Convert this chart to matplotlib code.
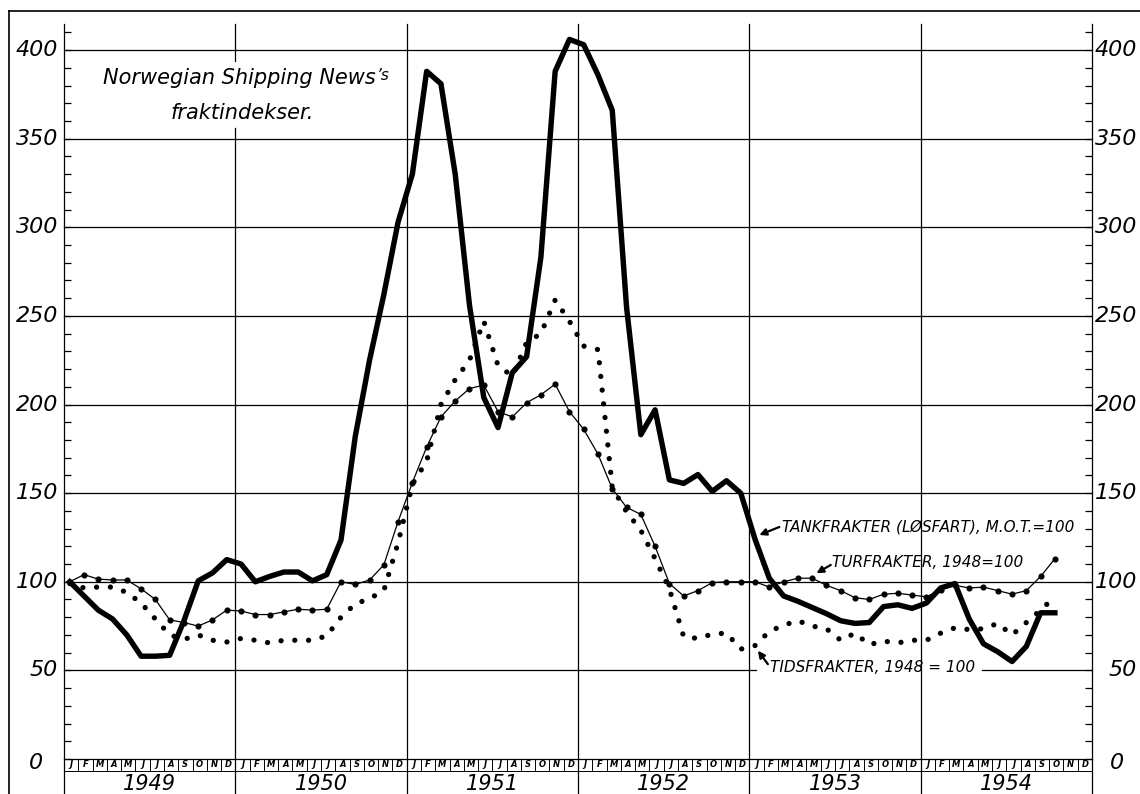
import matplotlib
matplotlib.use("Agg")
import matplotlib.pyplot as plt
from matplotlib import transforms
from matplotlib.lines import Line2D

# monthly values, Jan 1949 .. Oct 1954
tank = [100, 92, 84, 79, 70, 58, 58, 58.5, 78, 100.5,
        105, 112.5, 110, 100, 103, 105.5, 105.5, 100.5, 104, 123.5,
        182, 225, 262, 303, 330, 388, 381, 330, 256, 204,
        187, 218, 227, 283, 388, 406, 403, 386, 366, 255,
        183, 197, 157.5, 155.5, 160.5, 151, 157, 150, 124, 102,
        92, 89, 85.5, 82, 78, 76.5, 77, 86, 87, 85,
        88, 96.5, 99, 79, 65, 60.5, 55, 63.5, 82.5, 82.5]
tur = [100, 104, 101.5, 101, 101, 96, 90, 78.5, 77, 75,
       78.5, 84, 83.5, 81.5, 81.5, 83, 84.5, 84, 84.5, 100,
       98.5, 101, 109.5, 134, 156, 176, 193, 202, 209, 211,
       196, 193, 201, 205.5, 211.5, 196, 186, 172, 152.5, 142,
       138, 120, 99, 92, 95, 99.5, 100, 100, 100, 97,
       100, 102, 102, 98, 95, 91, 90, 93, 93.5, 92.5,
       91.5, 95.5, 98, 96.5, 97, 95, 93, 95, 103, 113]
tids = [99, 96.5, 97, 97, 94, 88, 79, 70, 67.5, 70,
        67, 66, 68, 67, 65.5, 67, 67, 67, 69.5, 80,
        87.5, 90.5, 95, 122, 155, 168, 200, 214, 225, 247,
        222, 216, 235, 240, 259, 247, 233, 231, 153, 139.5,
        129, 113, 96, 69, 68, 70.5, 71, 62, 64, 72,
        75.5, 78, 75, 73.5, 67, 71, 64.5, 66.5, 65.5, 67,
        67, 71, 74, 73, 73.5, 76.5, 70, 77, 84, 91.5]
years = ["1949", "1950", "1951", "1952", "1953", "1954"]
months = ["J", "F", "M", "A", "M", "J", "J", "A", "S", "O", "N", "D"]
ylabels = [0, 50, 100, 150, 200, 250, 300, 350, 400]

FONT = "DejaVu Sans"
YTOP = 414.7
YBOT = -20

fig = plt.figure(figsize=(11.4, 7.94), dpi=100)
ax = fig.add_axes([64 / 1140, 35 / 794, 1028 / 1140, 735 / 794])
ax.set_xlim(0, 72)
ax.set_ylim(0, YTOP)
for s in ax.spines.values():
    s.set_visible(False)
ax.set_xticks([])
ax.set_yticks(range(0, 411, 10))
ax.tick_params(axis="y", direction="in", length=5, width=0.9, left=True, right=True,
               labelleft=False, labelright=False)

# grid
k = dict(color="black", lw=0.9, zorder=1, clip_on=False)
for v in range(100, 401, 50):
    ax.plot([0, 72], [v, v], **k)
ax.plot([0, 48.5], [50, 50], **k)
ax.plot([64.3, 72], [50, 50], **k)
for x in [0, 24, 36, 48, 60, 72]:
    ax.plot([x, x], [YBOT, YTOP], **k)
ax.plot([12, 12], [YBOT, 356], **k)
ax.plot([12, 12], [394, YTOP], **k)

# month boxes and year labels
ax.plot([0, 72], [0, 0], **k)
ax.plot([0, 72], [-6.5, -6.5], color="black", lw=0.7, clip_on=False)
for i in range(72):
    ax.plot([i, i], [0, -6.5], color="black", lw=0.7, clip_on=False)
    ax.text(i + 0.5, -3.3, months[i % 12], ha="center", va="center", fontsize=6,
            style="italic", family=FONT, fontweight="bold")
for j, y in enumerate(years):
    ax.text(6 + 12 * j, -8.5, y, ha="center", va="top", fontsize=15,
            style="italic", family=FONT, clip_on=False)

# y labels
tr = transforms.blended_transform_factory(ax.transAxes, ax.transData)
for v in ylabels:
    if v == 0:
        ax.text(-0.0272, -2.5, "0", transform=tr, ha="center", va="center",
                fontsize=16, style="italic", family=FONT)
        ax.text(1.0243, -2.5, "0", transform=tr, ha="center", va="center",
                fontsize=16, style="italic", family=FONT)
    else:
        ax.text(-0.006, v, str(v), transform=tr, ha="right", va="center",
                fontsize=16, style="italic", family=FONT)
        ax.text(1.0438, v, str(v), transform=tr, ha="right", va="center",
                fontsize=16, style="italic", family=FONT)

# series
x = [i + 0.4 for i in range(len(tank))]
ax.plot(x, tank, color="black", lw=3.9, solid_joinstyle="round", zorder=4)
ax.plot(x, tur, color="black", lw=0.9, marker="o", ms=3.4, zorder=3)
ax.plot(x, tids, color="black", lw=3.8, linestyle=(0, (0.01, 2.6)),
        dash_capstyle="round", zorder=3)

# title
t1 = ax.text(12.3, 384, "Norwegian Shipping News", ha="center", va="center",
             fontsize=15, style="italic", family=FONT)
ax.annotate("\u2019s", xy=(1, 1), xycoords=t1, xytext=(1, 0), textcoords="offset points",
            ha="left", va="top", fontsize=11, style="italic", family=FONT)
ax.text(12.5, 364.5, "fraktindekser.", ha="center", va="center",
        fontsize=15, style="italic", family=FONT)

# annotations
arrow = dict(arrowstyle="-|>", color="black", lw=1.6, mutation_scale=10,
             shrinkA=0, shrinkB=0)
tk = dict(fontsize=11, style="italic", family=FONT, va="center", ha="left")
ax.text(50.3, 130.9, "TANKFRAKTER (L\u00d8SFART), M.O.T.=100", **tk)
ax.annotate("", xy=(48.7, 126.4), xytext=(50.1, 130.9), arrowprops=arrow)
ax.text(53.8, 110.6, "TURFRAKTER, 1948=100", **tk)
ax.annotate("", xy=(52.7, 104.8), xytext=(53.7, 109.5), arrowprops=arrow)
ax.text(49.45, 51.7, "TIDSFRAKTER, 1948 = 100", **tk)
ax.annotate("", xy=(48.6, 61.1), xytext=(49.3, 53.5), arrowprops=arrow)

# page frame
fig.add_artist(Line2D([9 / 1140, 9 / 1140], [0, 1 - 11 / 794], color="black", lw=1.2,
                      transform=fig.transFigure))
fig.add_artist(Line2D([9 / 1140, 1], [1 - 11 / 794, 1 - 11 / 794], color="black", lw=1.2,
                      transform=fig.transFigure))

fig.savefig("out.png", dpi=100, facecolor="white")
